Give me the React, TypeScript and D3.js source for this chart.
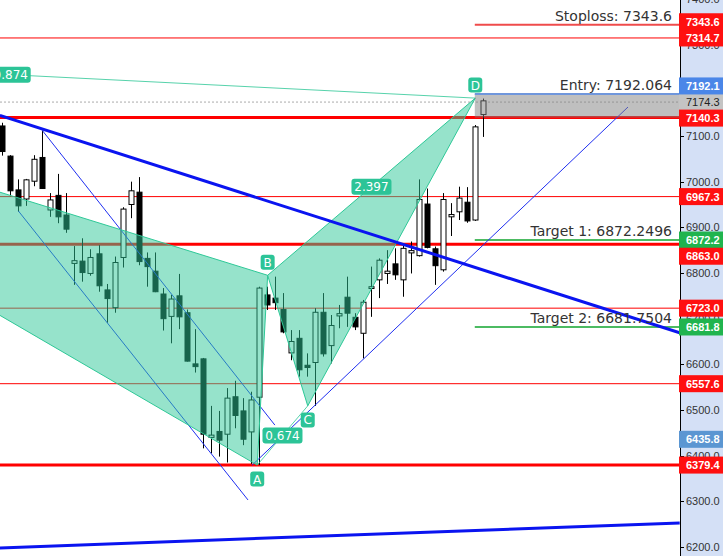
import React from "react";
import * as d3 from "d3";

const W = 723;
const H = 556;
const AXIS_X = 680;

// ---- candle data (oldest -> newest) ----
const opens = [7122, 7056, 6982, 6962, 7001, 7053, 6938, 6970, 6927, 6821, 6826, 6799, 6842, 6763, 6724, 6834, 6950, 6977, 6832, 6804, 6754, 6705, 6750, 6713, 6601, 6612, 6440, 6453, 6447, 6529, 6498, 6452, 6528, 6752, 6745, 6720, 6625, 6657, 6598, 6604, 6714, 6641, 6706, 6747, 6703, 6668, 6766, 6785, 6799, 6820, 6785, 6844, 6838, 6951, 6853, 6807, 6923, 6934, 6955, 6916, 7147];
const highs = [7129, 7058, 7005, 7006, 7058, 7112, 6975, 7017, 6975, 6859, 6876, 6852, 6861, 6776, 6836, 6944, 7000, 7010, 6845, 6845, 6767, 6752, 6798, 6720, 6677, 6614, 6509, 6498, 6548, 6564, 6526, 6540, 6770, 6770, 6792, 6756, 6675, 6675, 6624, 6723, 6756, 6708, 6730, 6792, 6712, 6741, 6814, 6832, 6850, 6854, 6865, 6869, 7005, 6985, 6858, 6975, 6953, 6989, 6988, 7124, 7182];
const lows = [7057, 6968, 6934, 6947, 6990, 6984, 6923, 6909, 6888, 6774, 6781, 6794, 6759, 6691, 6713, 6812, 6920, 6817, 6770, 6758, 6674, 6646, 6677, 6606, 6582, 6416, 6405, 6398, 6385, 6460, 6423, 6382, 6379.4, 6719, 6719, 6668, 6609, 6573, 6573, 6509, 6617, 6602, 6679, 6682, 6675, 6613, 6704, 6745, 6776, 6785, 6748, 6799, 6836, 6854, 6774, 6803, 6881, 6916, 6910, 6914, 7098];
const closes = [7066, 6980, 6947, 7004, 7049, 6985, 6960, 6923, 6896, 6827, 6801, 6834, 6772, 6744, 6823, 6940, 6980, 6825, 6814, 6759, 6700, 6743, 6704, 6607, 6595, 6447, 6445, 6434, 6526, 6488, 6436, 6522, 6767, 6730, 6735, 6671, 6650, 6588, 6593, 6714, 6623, 6685, 6711, 6712, 6682, 6736, 6770, 6828, 6804, 6796, 6854, 6849, 6961, 6856, 6816, 6961, 6928, 6964, 6914, 7120, 7177];

// ---- price axis ----
const priceTicks = [6200, 6300, 6400, 6500, 6600, 6700, 6800, 6900, 7000, 7100, 7200, 7300, 7400];

// ---- horizontal levels ----
const thinLevels = [7314.7, 6967.3, 6723.0, 6557.6];
const thickLevels = [7140.3, 6863.0, 6379.4];
const lastPrice = 7174.3;

// ---- position tool ----
const stoploss = 7343.6;
const entry = 7192.064;
const entryLow = 7140.3;
const target1 = 6872.2496;
const target2 = 6681.7504;
const positionStartIndex = 59;
const positionTexts = ["Stoploss: 7343.6", "Entry: 7192.064", "Target 1: 6872.2496", "Target 2: 6681.7504"];

// ---- XABCD pattern ----
const patternNames = ["X", "A", "B", "C", "D"];
const patternIdx = [-56.9, 31.8, 33.1, 38.1, 59.0];
const patternPrice = [7285.3, 6379.4, 6795, 6509, 7183];
const ratioTexts = ["0.874", "2.397", "0.674"]; // XD, BD, AC

// ---- trend lines (index, price) pairs ----
const thickTrendI1 = [-0.3, -0.3];
const thickTrendP1 = [7145, 6198];
const thickTrendI2 = [84.5, 84.5];
const thickTrendP2 = [6669, 6252.5];
const thinTrendI1 = [5, 2, 31.15];
const thinTrendP1 = [7112, 6936, 6379];
const thinTrendI2 = [34.0, 30.65, 78.05];
const thinTrendP2 = [6467, 6303, 7163.5];

// ---- axis badges ----
const badgeValues = [7314.7, 7174.3, 7140.3, 6967.3, 6872.2, 6723.0, 6681.8, 6557.6, 6435.8, 6379.4, 7343.6, 7192.1, 6863.0];
const badgeKinds = ["red", "gray", "red", "red", "green", "red", "green", "red", "steel", "red", "red", "blue", "red"];

const badgeFill: Record<string, string> = {
  red: "#ff1010",
  gray: "#c4c4c4",
  green: "#20b44e",
  steel: "#5b96d2",
  blue: "#4a86e8",
};

const TEAL = "#2ec897";
const TEAL_FILL = "rgba(46,200,151,0.5)";
const BADGE_TEAL = "#2cc497";

export default function App() {
  const y = d3.scaleLinear().domain([6200, 7100]).range([547, 136]);
  const x = d3.scaleLinear().domain([0, 60]).range([2.3, 483.3]);
  const bodyW = 5;

  // badge layout
  const BH = 17;
  const placed: { y: number; v: number; kind: string }[] = [];
  badgeValues.forEach((v, k) => {
    const y0 = y(v);
    const ok = (yy: number) => placed.every((p) => Math.abs(p.y - yy) >= 16);
    let best = y0;
    if (!ok(y0)) {
      for (let d = 0.5; d < 100; d += 0.5) {
        if (ok(y0 - d)) { best = y0 - d; break; }
        if (ok(y0 + d)) { best = y0 + d; break; }
      }
    }
    placed.push({ y: best, v, kind: badgeKinds[k] });
  });

  const P = patternNames.map((n, k) => ({ n, x: x(patternIdx[k]), y: y(patternPrice[k]) }));
  const [X, A, B, C, D] = P;
  const line = d3.line<{ x: number; y: number }>().x((d) => d.x).y((d) => d.y);
  const triXAB = line([X, A, B])! + "Z";
  const triBCD = line([B, C, D])! + "Z";
  const mids = [
    { t: ratioTexts[0], x: (X.x + D.x) / 2, y: (X.y + D.y) / 2 },
    { t: ratioTexts[1], x: (B.x + D.x) / 2, y: (B.y + D.y) / 2 },
    { t: ratioTexts[2], x: (A.x + C.x) / 2, y: (A.y + C.y) / 2 },
  ];
  const posX = x(positionStartIndex) - 0.5;
  const fontTxt = "'DejaVu Sans', sans-serif";
  const fontAxis = "'Liberation Sans', Arial, sans-serif";

  return (
    <svg width={W} height={H} style={{ position: "absolute", left: 0, top: 0, background: "#fff" }}>
      <defs>
        <clipPath id="plot">
          <rect x={0} y={0} width={AXIS_X} height={H} />
        </clipPath>
      </defs>
      <rect x={0} y={0} width={W} height={H} fill="#fff" />
      <g clipPath="url(#plot)">
        {/* horizontal levels */}
        {thinLevels.map((v, k) => (
          <line key={"tl" + k} x1={0} x2={AXIS_X} y1={y(v)} y2={y(v)} stroke="#ff0000" strokeWidth={1} />
        ))}
        <line x1={0} x2={AXIS_X} y1={y(lastPrice)} y2={y(lastPrice)} stroke="#aaa" strokeWidth={1} strokeDasharray="2,2" />
        {thickLevels.map((v, k) => (
          <line key={"tk" + k} x1={0} x2={AXIS_X} y1={y(v)} y2={y(v)} stroke="#ff0000" strokeWidth={3} />
        ))}
        {/* position lines */}
        <line x1={posX} x2={AXIS_X} y1={y(stoploss)} y2={y(stoploss)} stroke="#ef4b4b" strokeWidth={2} />
        <line x1={posX} x2={AXIS_X} y1={y(target1)} y2={y(target1)} stroke="#4cbb62" strokeWidth={2} />
        <line x1={posX} x2={AXIS_X} y1={y(target2)} y2={y(target2)} stroke="#4cbb62" strokeWidth={2} />

        {/* candles */}
        {opens.map((o, i) => {
          const c = closes[i];
          const up = c >= o;
          const top = y(Math.max(o, c));
          const bot = y(Math.min(o, c));
          const cx = Math.round(x(i)) + 0.5;
          return (
            <g key={"c" + i}>
              <line x1={cx} x2={cx} y1={y(highs[i])} y2={y(lows[i])} stroke="#000" strokeWidth={1} />
              <rect
                x={cx - bodyW / 2}
                y={top}
                width={bodyW}
                height={Math.max(1, bot - top)}
                fill={up ? "#fff" : "#000"}
                stroke="#000"
                strokeWidth={1}
              />
            </g>
          );
        })}

        {/* thin trend lines */}
        {thinTrendI1.map((i1, k) => (
          <line key={"tt" + k} x1={x(i1)} y1={y(thinTrendP1[k])} x2={x(thinTrendI2[k])} y2={y(thinTrendP2[k])} stroke="#1f2ff0" strokeWidth={1} />
        ))}

        {/* pattern */}
        <path d={triXAB} fill={TEAL_FILL} stroke={TEAL} strokeWidth={1} />
        <path d={triBCD} fill={TEAL_FILL} stroke={TEAL} strokeWidth={1} />
        <line x1={X.x} y1={X.y} x2={D.x} y2={D.y} stroke={TEAL} strokeWidth={1} opacity={0.8} />
        <line x1={A.x} y1={A.y} x2={C.x} y2={C.y} stroke={TEAL} strokeWidth={1} opacity={0.8} />

        {/* thick trend lines */}
        {thickTrendI1.map((i1, k) => (
          <line key={"tk2" + k} x1={x(i1)} y1={y(thickTrendP1[k])} x2={x(thickTrendI2[k])} y2={y(thickTrendP2[k])} stroke="#0a14f0" strokeWidth={3} />
        ))}

        {/* entry zone */}
        <rect x={posX} y={y(entry)} width={AXIS_X - posX} height={y(entryLow) - y(entry)} fill="rgba(128,128,128,0.5)" />
        <line x1={posX} x2={AXIS_X} y1={y(entry)} y2={y(entry)} stroke="#6f96dc" strokeWidth={2} />

        {/* position texts */}
        {[stoploss, entry, target1, target2].map((v, k) => (
          <text key={"pt" + k} x={672} y={y(v) - 4} textAnchor="end" fontFamily={fontTxt} fontSize={14} fill="#333">
            {positionTexts[k]}
          </text>
        ))}

        {/* ratio badges */}
        {mids.map((m, k) => {
          const w = m.t.length * 7.2 + 4;
          return (
            <g key={"rb" + k}>
              <rect x={m.x - w / 2} y={m.y - 8} width={w} height={16} rx={3} fill={BADGE_TEAL} />
              <text x={m.x} y={m.y + 4.5} textAnchor="middle" fontFamily={fontTxt} fontSize={12} fill="#fff">
                {m.t}
              </text>
            </g>
          );
        })}

        {/* point badges */}
        {P.slice(1).map((p, k) => {
          const below = p.n === "A" || p.n === "C";
          const cy = below ? p.y + 14 : p.y - 13;
          return (
            <g key={"pb" + k}>
              <rect x={p.x - 7} y={cy - 7.5} width={14} height={15} rx={3} fill={BADGE_TEAL} />
              <text x={p.x} y={cy + 4.5} textAnchor="middle" fontFamily={fontTxt} fontSize={12} fill="#fff">
                {p.n}
              </text>
            </g>
          );
        })}
      </g>

      {/* price axis */}
      <rect x={AXIS_X} y={0} width={W - AXIS_X} height={H} fill="#d4e0f6" />
      <line x1={AXIS_X + 0.5} x2={AXIS_X + 0.5} y1={0} y2={H} stroke="#000" strokeWidth={1} />
      {priceTicks.map((v) => (
        <g key={"tick" + v}>
          <line x1={AXIS_X} x2={AXIS_X + 4} y1={Math.round(y(v)) + 0.5} y2={Math.round(y(v)) + 0.5} stroke="#000" />
          <text x={686} y={y(v) + 4} fontFamily={fontAxis} fontSize={11} fill="#333">
            {v.toFixed(1)}
          </text>
        </g>
      ))}
      {placed.map((b, k) => (
        <g key={"bd" + k}>
          <rect x={AXIS_X - 1} y={b.y - BH / 2} width={W - AXIS_X + 1} height={BH} fill={badgeFill[b.kind]} />
          <text
            x={686}
            y={b.y + 4}
            fontFamily={fontAxis}
            fontSize={11}
            fontWeight={b.kind === "gray" ? "normal" : "bold"}
            fill={b.kind === "gray" ? "#222" : "#fff"}
          >
            {b.v.toFixed(1)}
          </text>
        </g>
      ))}
    </svg>
  );
}
